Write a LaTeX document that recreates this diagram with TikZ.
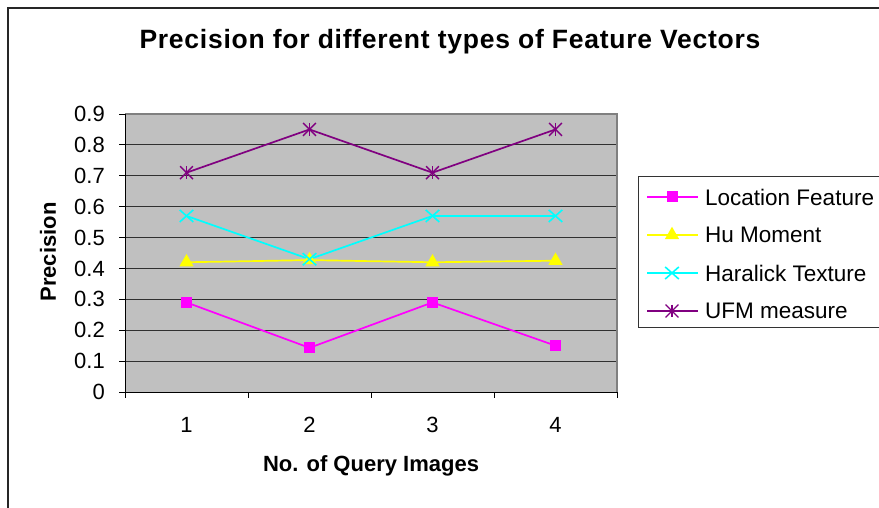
\documentclass[tikz,border=0pt]{standalone}
\usepackage{fontspec}
\setmainfont{Liberation Sans}
\usetikzlibrary{shapes.geometric,shapes.misc}
\definecolor{plotgray}{HTML}{C0C0C0}
\definecolor{locc}{HTML}{FF00FF}
\definecolor{huc}{HTML}{FFFF00}
\definecolor{harc}{HTML}{00FFFF}
\definecolor{ufmc}{HTML}{800080}
\definecolor{gridc}{HTML}{303030}
\definecolor{edgec}{HTML}{808080}
\tikzset{
  framel/.style={draw=black!85, line width=1.5pt},
  gridline/.style={draw=gridc, line width=0.9pt},
  ticklab/.style={font=\fontsize{22}{26}\selectfont, inner sep=0pt},
  axtitle/.style={font=\fontsize{22}{26}\selectfont\bfseries, inner sep=0pt},
  legtext/.style={font=\fontsize{22.5}{26}\selectfont, inner sep=0pt, anchor=west},
  locline/.style={draw=locc, line width=1.7pt},
  huline/.style={draw=huc, line width=1.7pt},
  harline/.style={draw=harc, line width=1.7pt},
  ufmline/.style={draw=ufmc, line width=1.7pt},
  sqmark/.style={rectangle, fill=locc, minimum size=11pt, inner sep=0pt},
  trimark/.style={regular polygon, regular polygon sides=3, fill=huc, minimum size=16.5pt, inner sep=0pt},
  xmark/.style={cross out, draw=harc, line width=1.6pt, minimum width=12pt, minimum height=10.5pt, inner sep=0pt},
  starmark/.style={cross out, draw=ufmc, line width=1.4pt, minimum size=11.5pt, inner sep=0pt,
    append after command={(\tikzlastnode.north) edge[draw=ufmc, line width=1.4pt] (\tikzlastnode.south)}},
}
\begin{document}
\begin{tikzpicture}[x=1pt,y=-1pt]
\useasboundingbox (0,0) rectangle (879,508);
\fill[white] (0,0) rectangle (879,508);
\draw[framel] (8,530) -- (8,8) -- (900,8);

\node[font=\fontsize{26.5}{30}\selectfont\bfseries\addfontfeatures{LetterSpace=2.8}, inner sep=0pt] (title) at (450,42) {Precision for different types of Feature Vectors};

\node[axtitle, rotate=90] (ytitle) at (48,252) {Precision};
\node[axtitle] (xtitle) at (371,466) {No. of Query Images};

\begin{scope}[shift={(125,392)}, x=123pt, y=308.9pt]
  \fill[plotgray] (0,0) rectangle (4,0.9);
  \foreach \k in {1,...,8} \draw[gridline] (0,\k/10) -- (4,\k/10);
  \draw[draw=edgec, line width=1.5pt] (0,0.9) -- (4,0.9) -- (4,0);
  \draw[draw=black, line width=1pt] (0,0.9) -- (0,0) -- (4,0);
  \foreach \k in {0,...,9} \draw[draw=black, line width=0.9pt] (0,\k/10) -- ++(-6pt,0);
  \foreach \i in {0,...,4} \draw[draw=black, line width=0.9pt] (\i,0) -- ++(0,-6pt);
  \foreach \k/\t in {0/0,1/0.1,2/0.2,3/0.3,4/0.4,5/0.5,6/0.6,7/0.7,8/0.8,9/0.9}
    \node[ticklab, anchor=east] (yl\k) at ([xshift=-20pt]0,\k/10) {\t};
  \foreach \i in {1,...,4}
    \node[ticklab] (xl\i) at ([yshift=-33pt]\i-0.5,0) {\i};

  % data points
  \coordinate (L1) at (0.5,0.29);  \coordinate (L2) at (1.5,0.143);
  \coordinate (L3) at (2.5,0.29);  \coordinate (L4) at (3.5,0.15);
  \coordinate (H1) at (0.5,0.42);  \coordinate (H2) at (1.5,0.427);
  \coordinate (H3) at (2.5,0.42);  \coordinate (H4) at (3.5,0.425);
  \coordinate (R1) at (0.5,0.57);  \coordinate (R2) at (1.5,0.43);
  \coordinate (R3) at (2.5,0.57);  \coordinate (R4) at (3.5,0.57);
  \coordinate (U1) at (0.5,0.71);  \coordinate (U2) at (1.5,0.85);
  \coordinate (U3) at (2.5,0.71);  \coordinate (U4) at (3.5,0.85);

  \draw[ufmline] (U1) -- (U2) -- (U3) -- (U4);
  \draw[harline] (R1) -- (R2) -- (R3) -- (R4);
  \draw[huline] (H1) -- (H2) -- (H3) -- (H4);
  \draw[locline] (L1) -- (L2) -- (L3) -- (L4);
  \foreach \i in {1,...,4} {
    \node[starmark] (um\i) at (U\i) {};
    \node[trimark] (hm\i) at (H\i) {};
    \node[xmark] (rm\i) at (R\i) {};
    \node[sqmark] (lm\i) at (L\i) {};
  }
\end{scope}

% legend
\draw[draw=black!80, line width=1pt, fill=white] (638,177) rectangle (890,327);
\coordinate (la1) at (647,197); \coordinate (lb1) at (698,197);
\coordinate (la2) at (647,235); \coordinate (lb2) at (698,235);
\coordinate (la3) at (647,273); \coordinate (lb3) at (698,273);
\coordinate (la4) at (647,311); \coordinate (lb4) at (698,311);
\draw[locline] (la1) -- (lb1);
\draw[huline] (la2) -- (lb2);
\draw[harline] (la3) -- (lb3);
\draw[ufmline] (la4) -- (lb4);
\node[sqmark] (lgm1) at (672,197) {};
\node[trimark] (lgm2) at (672,235) {};
\node[xmark] (lgm3) at (672,273) {};
\node[starmark] (lgm4) at (672,311) {};
\node[legtext] (lgt1) at (705,197) {Location Feature};
\node[legtext] (lgt2) at (705,235) {Hu Moment};
\node[legtext] (lgt3) at (705,273) {Haralick Texture};
\node[legtext] (lgt4) at (705,311) {UFM measure};
\end{tikzpicture}
\end{document}
